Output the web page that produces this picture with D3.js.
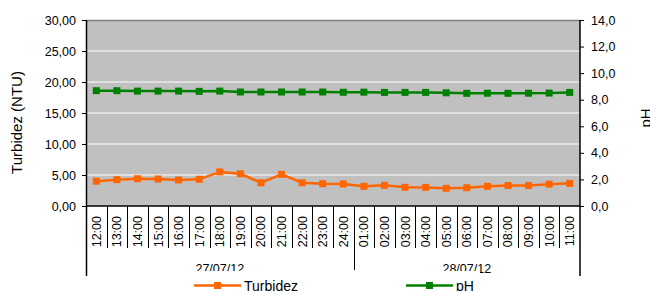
<!DOCTYPE html>
<html>
<head>
<meta charset="utf-8">
<script src="https://cdn.jsdelivr.net/npm/d3@7"></script>
<style>
  body { margin: 0; background: #fff; }
  svg { font-family: "Liberation Sans", Arial, sans-serif; }
  .axis path, .axis line { stroke: #000; }
  .axis text { font-size: 12.5px; fill: #000; }
</style>
</head>
<body>
<svg id="chart" width="650" height="291"></svg>
<script>
const hours = ["12:00","13:00","14:00","15:00","16:00","17:00","18:00","19:00","20:00","21:00","22:00","23:00","24:00",
               "01:00","02:00","03:00","04:00","05:00","06:00","07:00","08:00","09:00","10:00","11:00"];
const dates = ["27/07/12", "28/07/12"];
const dateCounts = [13, 11];
const turbidez = [4.0, 4.25, 4.4, 4.35, 4.2, 4.3, 5.5, 5.2, 3.75, 5.1, 3.75, 3.6, 3.55,
                  3.17, 3.33, 3.02, 3.0, 2.85, 2.95, 3.17, 3.3, 3.3, 3.52, 3.65];
const ph = [8.68, 8.68, 8.65, 8.65, 8.65, 8.63, 8.65, 8.58, 8.58, 8.58, 8.58, 8.58, 8.56,
            8.57, 8.55, 8.55, 8.55, 8.52, 8.48, 8.49, 8.48, 8.49, 8.5, 8.55];
const leftTicks = [0, 5, 10, 15, 20, 25, 30];
const rightTicks = [0, 2, 4, 6, 8, 10, 12, 14];

const margin = { top: 20, right: 70, bottom: 85, left: 86 };
const width = 650 - margin.left - margin.right;
const height = 291 - margin.top - margin.bottom;

const svg = d3.select("#chart");
const chart = svg.append("g").attr("transform", `translate(${margin.left},${margin.top})`);

const x = d3.scaleBand().domain(hours).range([0, width]).padding(0);
const yL = d3.scaleLinear().domain([0, 30]).range([height, 0]);
const yR = d3.scaleLinear().domain([0, 14]).range([height, 0]);

// plot background
chart.append("rect")
  .attr("width", width).attr("height", height)
  .attr("fill", "#c0c0c0");

// gridlines
chart.selectAll(".grid")
  .data(leftTicks.filter(d => d > 0 && d < 30))
  .enter().append("line")
  .attr("x1", 0).attr("x2", width)
  .attr("y1", d => yL(d)).attr("y2", d => yL(d))
  .attr("stroke", "#fff").attr("stroke-width", 1);

chart.append("line")
  .attr("x1", 0).attr("x2", width)
  .attr("y1", 0.5).attr("y2", 0.5)
  .attr("stroke", "#808080").attr("stroke-width", 1.5);

// axes
const comma = (n, k) => n.toFixed(k).replace(".", ",");
chart.append("g").attr("class", "axis")
  .call(d3.axisLeft(yL).tickValues(leftTicks).tickFormat(d => comma(d, 2)).tickSize(4).tickPadding(6))
  .call(g => g.select(".domain").attr("d", `M0.5,0V${height}`).attr("stroke-width", 1.5));

chart.append("g").attr("class", "axis")
  .attr("transform", `translate(${width},0)`)
  .call(d3.axisRight(yR).tickValues(rightTicks).tickFormat(d => comma(d, 1)).tickSize(4).tickPadding(7))
  .call(g => g.select(".domain").attr("d", `M0,0V${height}`).attr("stroke-width", 1.5));

// bottom axis line
chart.append("line")
  .attr("x1", 0).attr("x2", width)
  .attr("y1", height).attr("y2", height)
  .attr("stroke", "#000").attr("stroke-width", 1.5);

// category separators
chart.selectAll(".sep")
  .data(hours.slice(1))
  .enter().append("line")
  .attr("x1", d => Math.round(x(d)) + 0.5).attr("x2", d => Math.round(x(d)) + 0.5)
  .attr("y1", height).attr("y2", height + 42)
  .attr("stroke", "#000");

// hour labels
chart.selectAll(".hour")
  .data(hours)
  .enter().append("text")
  .attr("transform", d => `translate(${x(d) + x.bandwidth() / 2 + 4.5},${height + 10}) rotate(-90)`)
  .attr("text-anchor", "end")
  .attr("font-size", 12.5)
  .text(d => d);

// date groups
let start = 0;
const groups = dates.map((d, i) => {
  const g = { label: d, first: hours[start], last: hours[start + dateCounts[i] - 1] };
  start += dateCounts[i];
  return g;
});
const gx0 = g => x(g.first);
const gx1 = g => x(g.last) + x.bandwidth();

chart.append("line")
  .attr("x1", 0.5).attr("x2", 0.5)
  .attr("y1", height).attr("y2", height + 70)
  .attr("stroke", "#000").attr("stroke-width", 1.5);
chart.append("line")
  .attr("x1", width).attr("x2", width)
  .attr("y1", height).attr("y2", height + 70)
  .attr("stroke", "#000").attr("stroke-width", 1.5);
chart.append("line")
  .attr("x1", Math.round(gx1(groups[0])) + 0.5).attr("x2", Math.round(gx1(groups[0])) + 0.5)
  .attr("y1", height).attr("y2", height + 64)
  .attr("stroke", "#000");

chart.selectAll(".date")
  .data(groups)
  .enter().append("text")
  .attr("x", g => (gx0(g) + gx1(g)) / 2)
  .attr("y", height + 67)
  .attr("text-anchor", "middle")
  .attr("font-size", 12.5)
  .text(g => g.label);

// series
const series = [
  { name: "Turbidez", values: turbidez, y: yL, color: "#ff6600" },
  { name: "pH", values: ph, y: yR, color: "#008000" }
];

series.forEach(s => {
  const line = d3.line()
    .x((d, i) => x(hours[i]) + x.bandwidth() / 2)
    .y(d => s.y(d));
  chart.append("path")
    .datum(s.values)
    .attr("fill", "none")
    .attr("stroke", s.color)
    .attr("stroke-width", 2.5)
    .attr("d", line);
  chart.selectAll(null)
    .data(s.values)
    .enter().append("rect")
    .attr("x", (d, i) => x(hours[i]) + x.bandwidth() / 2 - 3.5)
    .attr("y", d => s.y(d) - 3.5)
    .attr("width", 7).attr("height", 7)
    .attr("fill", s.color);
});

// axis titles
svg.append("text")
  .attr("transform", "translate(22,122.5) rotate(-90)")
  .attr("text-anchor", "middle")
  .attr("font-size", 15)
  .text("Turbidez (NTU)");

svg.append("text")
  .attr("transform", "translate(651,118) rotate(-90)")
  .attr("text-anchor", "middle")
  .attr("font-size", 15)
  .text("pH");

// legend
svg.append("rect")
  .attr("x", 185).attr("y", 271)
  .attr("width", 295).attr("height", 20)
  .attr("fill", "#fff");

const legendPos = [194, 406];
series.forEach((s, i) => {
  const lg = svg.append("g").attr("transform", `translate(${legendPos[i]},285.5)`);
  lg.append("line").attr("x1", 0).attr("x2", 47).attr("stroke", s.color).attr("stroke-width", 2.5);
  lg.append("rect").attr("x", 20).attr("y", -3.5).attr("width", 7).attr("height", 7).attr("fill", s.color);
  lg.append("text").attr("x", 50).attr("y", 5.5).attr("font-size", 14).text(s.name);
});
</script>
</body>
</html>
